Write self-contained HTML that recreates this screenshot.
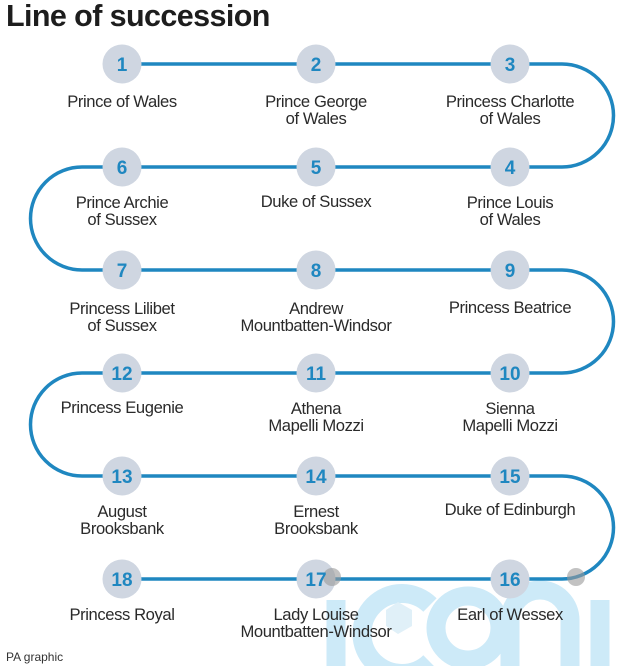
<!DOCTYPE html>
<html><head><meta charset="utf-8"><style>
html,body{margin:0;padding:0;background:#fff;}
svg{display:block}
text{font-family:"Liberation Sans",Arial,sans-serif;}
.l{font-size:16.6px;fill:#2a2a2a;text-anchor:middle;letter-spacing:-0.4px}
.n{font-size:19px;font-weight:bold;fill:#1f87c0;text-anchor:middle}
</style></head><body>
<svg width="640" height="666" viewBox="0 0 640 666">
<text x="6" y="26" style="font-size:30.5px;font-weight:bold;fill:#1d1d1d;letter-spacing:-0.6px">Line of succession</text>
<!-- watermark -->
<g fill="none" stroke="#cdeaf8" stroke-width="19">
<line x1="336" y1="600" x2="336" y2="666"/>
<path d="M430 605 A40 40 0 1 0 430 662"/>
<circle cx="468" cy="628" r="32"/>
<path d="M510 666 V620 A30 30 0 0 1 570 620 V666"/>
<line x1="600" y1="600" x2="600" y2="666"/>
</g>
<path d="M386 610 l12 -8 l14 8 v16 l-14 8 l-12 -8z" fill="#e0f0f8"/>
<!-- line -->
<path d="M122 64 H562 A51.5 51.5 0 0 1 562 167 H82 A51.5 51.5 0 0 0 82 270 H562 A51.5 51.5 0 0 1 562 373 H82 A51.5 51.5 0 0 0 82 476 H562 A51.5 51.5 0 0 1 562 579 H122" fill="none" stroke="#1f87c0" stroke-width="3.5"/>
<g fill="#cfd6e1">
<circle cx="122" cy="64" r="19.5"/><circle cx="316" cy="64" r="19.5"/><circle cx="510" cy="64" r="19.5"/>
<circle cx="122" cy="167" r="19.5"/><circle cx="316" cy="167" r="19.5"/><circle cx="510" cy="167" r="19.5"/>
<circle cx="122" cy="270" r="19.5"/><circle cx="316" cy="270" r="19.5"/><circle cx="510" cy="270" r="19.5"/>
<circle cx="122" cy="373" r="19.5"/><circle cx="316" cy="373" r="19.5"/><circle cx="510" cy="373" r="19.5"/>
<circle cx="122" cy="476" r="19.5"/><circle cx="316" cy="476" r="19.5"/><circle cx="510" cy="476" r="19.5"/>
<circle cx="122" cy="579" r="19.5"/><circle cx="316" cy="579" r="19.5"/><circle cx="510" cy="579" r="19.5"/>
</g>
<circle cx="332" cy="577" r="9" fill="#999" opacity="0.6"/>
<circle cx="576" cy="577" r="9" fill="#999" opacity="0.6"/>
<g>
<text x="122" y="71" class="n">1</text><text x="316" y="71" class="n">2</text><text x="510" y="71" class="n">3</text>
<text x="122" y="174" class="n">6</text><text x="316" y="174" class="n">5</text><text x="510" y="174" class="n">4</text>
<text x="122" y="277" class="n">7</text><text x="316" y="277" class="n">8</text><text x="510" y="277" class="n">9</text>
<text x="122" y="380" class="n">12</text><text x="316" y="380" class="n">11</text><text x="510" y="380" class="n">10</text>
<text x="122" y="483" class="n">13</text><text x="316" y="483" class="n">14</text><text x="510" y="483" class="n">15</text>
<text x="122" y="586" class="n">18</text><text x="316" y="586" class="n">17</text><text x="510" y="586" class="n">16</text>
</g>
<text class="l" x="122" y="107">Prince of Wales</text>
<text class="l" x="316" y="107">Prince George</text><text class="l" x="316" y="124">of Wales</text>
<text class="l" x="510" y="107">Princess Charlotte</text><text class="l" x="510" y="124">of Wales</text>
<text class="l" x="122" y="208">Prince Archie</text><text class="l" x="122" y="225">of Sussex</text>
<text class="l" x="316" y="207">Duke of Sussex</text>
<text class="l" x="510" y="208">Prince Louis</text><text class="l" x="510" y="225">of Wales</text>
<text class="l" x="122" y="314">Princess Lilibet</text><text class="l" x="122" y="331">of Sussex</text>
<text class="l" x="316" y="314">Andrew</text><text class="l" x="316" y="331">Mountbatten-Windsor</text>
<text class="l" x="510" y="313">Princess Beatrice</text>
<text class="l" x="122" y="413">Princess Eugenie</text>
<text class="l" x="316" y="414">Athena</text><text class="l" x="316" y="431">Mapelli Mozzi</text>
<text class="l" x="510" y="414">Sienna</text><text class="l" x="510" y="431">Mapelli Mozzi</text>
<text class="l" x="122" y="517">August</text><text class="l" x="122" y="534">Brooksbank</text>
<text class="l" x="316" y="517">Ernest</text><text class="l" x="316" y="534">Brooksbank</text>
<text class="l" x="510" y="515">Duke of Edinburgh</text>
<text class="l" x="122" y="620">Princess Royal</text>
<text class="l" x="316" y="620">Lady Louise</text><text class="l" x="316" y="637">Mountbatten-Windsor</text>
<text class="l" x="510" y="620">Earl of Wessex</text>
<text x="6" y="661" style="font-size:12px;fill:#333">PA graphic</text>
</svg>
</body></html>
